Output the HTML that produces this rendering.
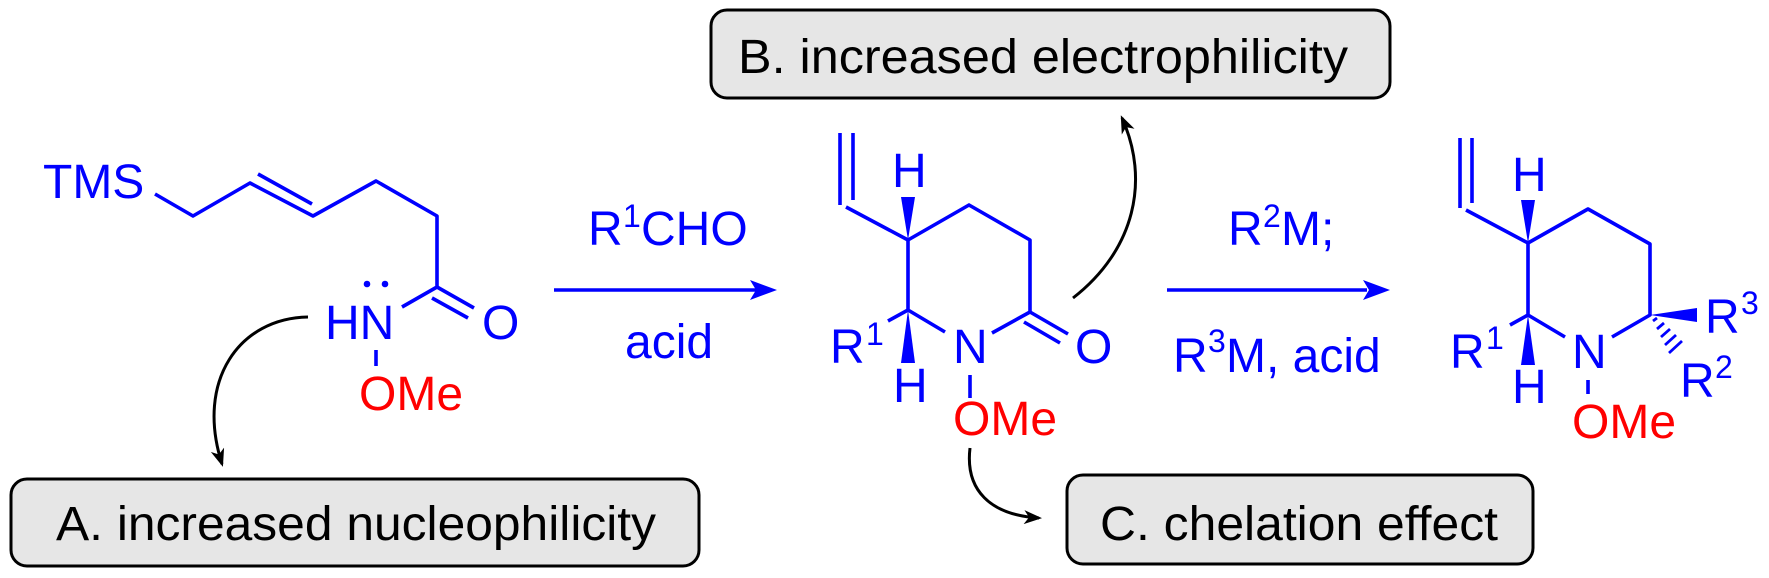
<!DOCTYPE html>
<html><head><meta charset="utf-8"><style>
html,body{margin:0;padding:0;background:#fff;}
svg{display:block;}
text{font-family:"Liberation Sans",Arial,sans-serif;}
</style></head><body>
<svg width="1769" height="578" viewBox="0 0 1769 578" xmlns="http://www.w3.org/2000/svg">
<defs>
<marker id="ah" markerWidth="18" markerHeight="14" refX="15" refY="7" orient="auto" markerUnits="userSpaceOnUse">
<path d="M0,0 L18,7 L0,14 L5,7 Z" fill="#000"/>
</marker>
</defs>
<g fill="#e6e6e6" stroke="#000" stroke-width="3">
<rect x="11" y="479" width="688" height="87" rx="16"/>
<rect x="711" y="10" width="679" height="88" rx="16"/>
<rect x="1067" y="475" width="466" height="89" rx="16"/>
</g>
<g font-size="48" fill="#000">
<text x="56" y="540" textLength="600" lengthAdjust="spacingAndGlyphs">A. increased nucleophilicity</text>
<text x="738" y="73" textLength="610" lengthAdjust="spacingAndGlyphs">B. increased electrophilicity</text>
<text x="1100" y="540" textLength="398" lengthAdjust="spacingAndGlyphs">C. chelation effect</text>
</g>
<!-- curved arrows -->
<g fill="none" stroke="#000" stroke-width="3">
<path d="M308,317 C240,318 195,380 222,464" marker-end="url(#ah)"/>
<path d="M1073,298 C1135,250 1150,180 1122,118" marker-end="url(#ah)"/>
<path d="M970,448 C965,490 990,515 1039,518" marker-end="url(#ah)"/>
</g>
<!-- blue bonds -->
<g stroke="#0000ff" stroke-width="3.6" fill="none" stroke-linejoin="round">
<polyline points="155,194 193,216 250,183 313,216 376,181 437,216 437,287 402,307"/>
<line x1="258" y1="174" x2="312" y2="204"/>
<line x1="437" y1="287" x2="474" y2="308"/>
<line x1="432" y1="298" x2="468" y2="318"/>
<line x1="376" y1="350" x2="376" y2="366"/>
<line x1="554" y1="290" x2="757" y2="290"/>
<line x1="1167" y1="290" x2="1367" y2="290"/>
<line x1="840" y1="133" x2="840" y2="205"/>
<line x1="853" y1="133" x2="853" y2="200"/>
<polyline points="846,207 908,240 969,205 1030,240 1030,312 992,333"/>
<polyline points="908,240 908,310 945,332"/>
<line x1="908" y1="310" x2="888" y2="321"/>
<line x1="1030" y1="312" x2="1068" y2="334"/>
<line x1="1024" y1="322" x2="1060" y2="343"/>
<line x1="970" y1="375" x2="970" y2="398"/>
<line x1="1460" y1="138" x2="1460" y2="208"/>
<line x1="1472" y1="138" x2="1472" y2="203"/>
<polyline points="1466,210 1528,243 1588,209 1650,244 1650,315 1612,337"/>
<polyline points="1528,243 1528,315 1565,337"/>
<line x1="1528" y1="315" x2="1510" y2="325"/>
<line x1="1588" y1="380" x2="1588" y2="394"/>
</g>
<g fill="#0000ff">
<polygon points="908,240 901,197 915,197"/>
<polygon points="908,310 901,363 915,363"/>
<polygon points="1528,243 1521,200 1535,200"/>
<polygon points="1528,315 1521,365 1535,365"/>
<polygon points="1650,315 1697,308 1697,322"/>
<polygon points="777,290 750,280 756,290 750,300"/>
<polygon points="1390,290 1363,280 1369,290 1363,300"/>
<circle cx="367" cy="284" r="3.3"/>
<circle cx="385" cy="284" r="3.3"/>
</g>
<g stroke="#0000ff" stroke-width="2.8">
<line x1="1653" y1="321" x2="1657" y2="318"/>
<line x1="1657" y1="329" x2="1664" y2="323"/>
<line x1="1661" y1="337" x2="1670" y2="329"/>
<line x1="1665" y1="345" x2="1676" y2="335"/>
<line x1="1669" y1="353" x2="1682" y2="341"/>
</g>
<g fill="#0000ff" font-size="48">
<text x="43" y="198">TMS</text>
<text x="325" y="339">HN</text>
<text x="482" y="339">O</text>
<text x="588" y="245">R</text><text x="623" y="227" font-size="32">1</text><text x="641" y="245">CHO</text>
<text x="625" y="358">acid</text>
<text x="892" y="187">H</text>
<text x="830" y="363">R</text><text x="866" y="345" font-size="32">1</text>
<text x="893" y="402">H</text>
<text x="953" y="363">N</text>
<text x="1075" y="363">O</text>
<text x="1228" y="245">R</text><text x="1263" y="227" font-size="32">2</text><text x="1281" y="245">M;</text>
<text x="1173" y="372">R</text><text x="1208" y="352" font-size="32">3</text><text x="1226" y="372">M, acid</text>
<text x="1512" y="191">H</text>
<text x="1450" y="368">R</text><text x="1486" y="349" font-size="32">1</text>
<text x="1512" y="403">H</text>
<text x="1572" y="368">N</text>
<text x="1705" y="333">R</text><text x="1741" y="314" font-size="32">3</text>
<text x="1680" y="397">R</text><text x="1715" y="378" font-size="32">2</text>
</g>
<g fill="#ff0000" font-size="48">
<text x="359" y="410">OMe</text>
<text x="953" y="435">OMe</text>
<text x="1572" y="438">OMe</text>
</g>
</svg>
</body></html>
